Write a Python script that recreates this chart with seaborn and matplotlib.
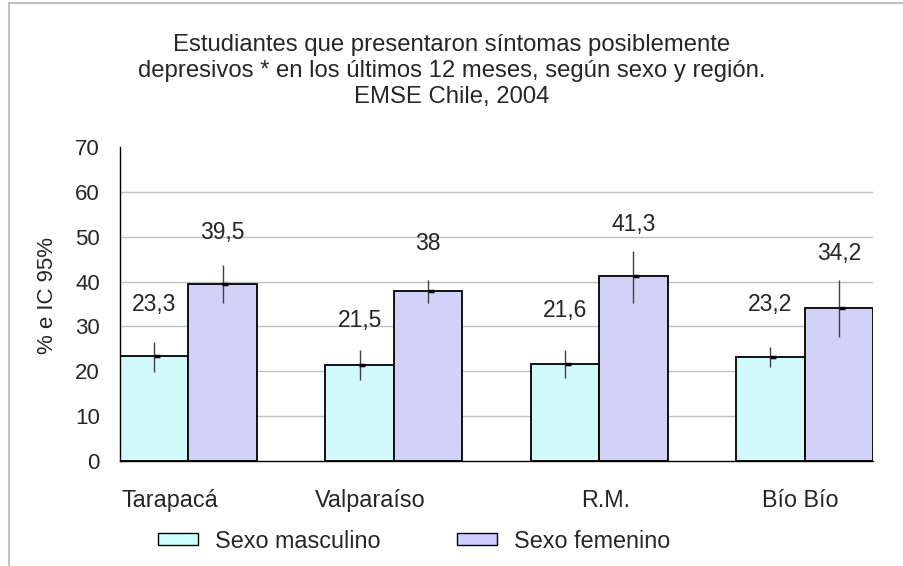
import matplotlib
matplotlib.use('Agg')
from matplotlib import pyplot as plt
from matplotlib.patches import Patch
from matplotlib.lines import Line2D
import pandas as pd
import numpy as np
import seaborn as sns

regiones = ['Tarapacá', 'Valparaíso', 'R.M.', 'Bío Bío']
sexos = ['Sexo masculino', 'Sexo femenino']
masculino = [23.3, 21.5, 21.6, 23.2]
femenino = [39.5, 38.0, 41.3, 34.2]
masc_ic_inf = [19.9, 18.1, 18.4, 21.0]
masc_ic_sup = [26.5, 24.7, 24.7, 25.5]
fem_ic_inf = [35.3, 35.3, 35.3, 27.6]
fem_ic_sup = [43.6, 40.3, 46.9, 40.3]

colores = {'Sexo masculino': '#CCFFFF', 'Sexo femenino': '#CCCCFF'}

# each region takes 3 slots on the x axis: masc, fem, empty
filas = []
for i, reg in enumerate(regiones):
    filas.append({'region': reg, 'sexo': sexos[0], 'pos': 3 * i + 0.5,
                  'valor': masculino[i], 'inf': masc_ic_inf[i], 'sup': masc_ic_sup[i]})
    filas.append({'region': reg, 'sexo': sexos[1], 'pos': 3 * i + 1.5,
                  'valor': femenino[i], 'inf': fem_ic_inf[i], 'sup': fem_ic_sup[i]})
df = pd.DataFrame(filas)

sns.set_style('white')
plt.rcParams['font.family'] = ['Liberation Sans', 'DejaVu Sans']

fig = plt.figure(figsize=(9.04, 5.66), dpi=100)
ax = fig.add_axes([120 / 904, 105 / 566, 753 / 904, 314 / 566])

sns.barplot(data=df, x='pos', y='valor', hue='sexo', native_scale=True, dodge=False,
            width=1, palette=colores, edgecolor='black', linewidth=1.3,
            errorbar=None, legend=False, ax=ax)

# intervalos de confianza
ax.vlines(df['pos'], df['inf'], df['sup'], color='#404040', lw=1, zorder=4)
ax.plot(df['pos'] + 0.04, df['valor'], ls='none', marker='_', ms=5, mew=2.5,
        color='black', zorder=5)

# etiquetas de valor
desplaz = [11.5, 11.5, 9.8, 10.4, 11.9, 11.5, 11.7, 12.1]
for (_, r), d in zip(df.iterrows(), desplaz):
    ax.text(r['pos'], r['valor'] + d, f"{r['valor']:g}".replace('.', ','),
            ha='center', va='center', fontsize=16.5)

ax.set_xlim(0, 11)
ax.set_ylim(0, 70)
ax.set_yticks(range(0, 71, 10))
ax.set_xticks(range(0, 12))
ax.set_xticklabels([])
ajuste = [-0.27, -0.35, 0.1, -0.07]
ax.set_xticks([3 * i + 1 + a for i, a in enumerate(ajuste)], regiones, minor=True)
ax.tick_params(axis='x', which='major', direction='out', length=6, width=1, color='black')
ax.tick_params(axis='x', which='minor', length=0, pad=20, labelsize=16.8)
ax.tick_params(axis='y', direction='inout', length=13, width=1, color='black',
               pad=8, labelsize=16)
ax.set_xlabel('')
ax.set_ylabel('')

ax.yaxis.grid(True, color='#c0c0c0', lw=1)
ax.get_ygridlines()[-1].set_visible(False)
ax.get_ygridlines()[0].set_visible(False)
ax.set_axisbelow(True)
for s in ['top', 'right']:
    ax.spines[s].set_visible(False)
for s in ['left', 'bottom']:
    ax.spines[s].set_color('black')
    ax.spines[s].set_linewidth(1)

fig.text(47.5 / 904, 1 - 295 / 566, '% e IC 95%', rotation=90, ha='center',
         va='center', fontsize=16)

fig.text(0.5, 1 - 71 / 566,
         'Estudiantes que presentaron síntomas posiblemente\n'
         'depresivos * en los últimos 12 meses, según sexo y región.\n'
         'EMSE Chile, 2004',
         ha='center', va='center', fontsize=17.2, linespacing=1.24)

handles = [Patch(facecolor=colores[s], edgecolor='black', lw=1) for s in sexos]
fig.legend(handles, sexos, loc='center', bbox_to_anchor=(414 / 904, 1 - 541 / 566),
           ncol=2, frameon=False, fontsize=16.8, handlelength=1.72, handleheight=0.43,
           handletextpad=0.72, columnspacing=3.3, borderpad=0)

# borde gris del area del grafico
fig.add_artist(Line2D([9 / 904, 9 / 904, 1], [0, 1 - 3 / 566, 1 - 3 / 566],
                      transform=fig.transFigure, color='#c0c0c0', lw=1.5))

fig.savefig('out.png', dpi=100)
